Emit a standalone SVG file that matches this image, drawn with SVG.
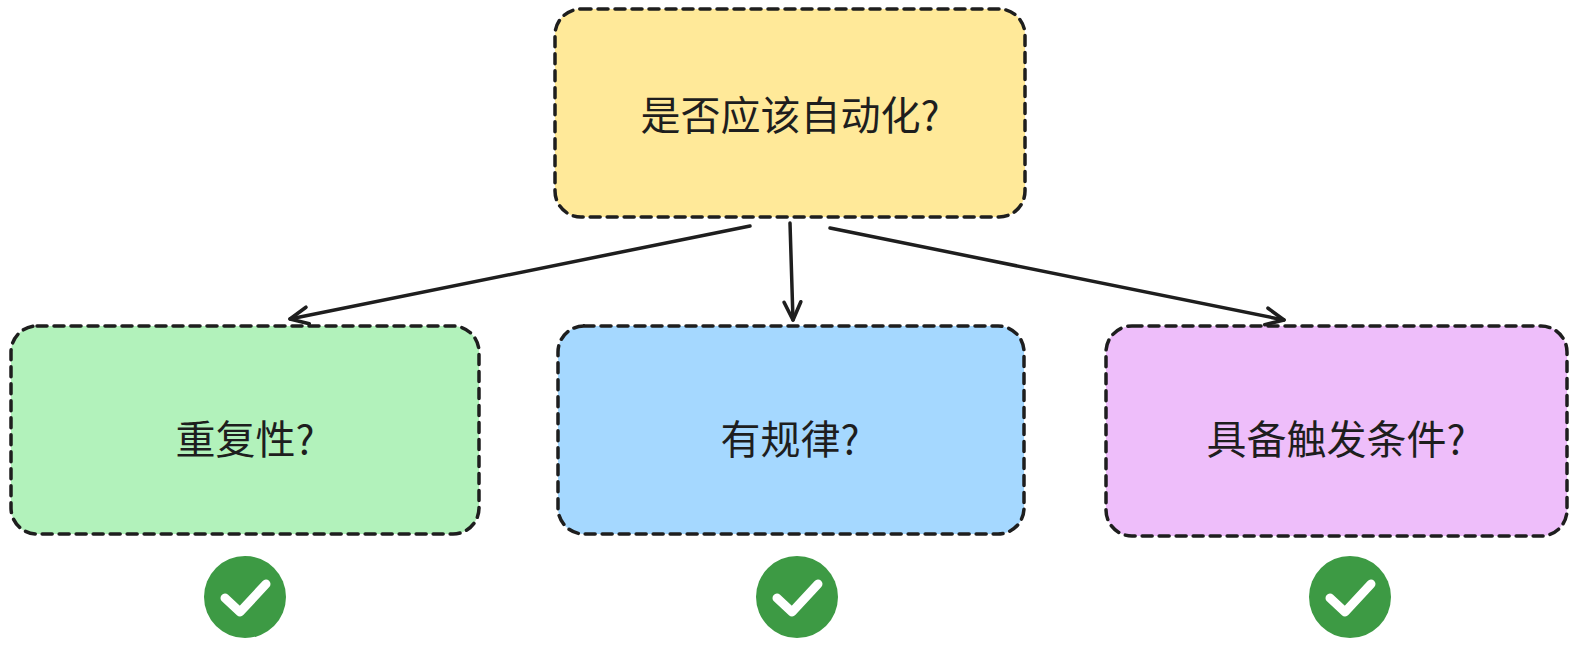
<svg xmlns="http://www.w3.org/2000/svg" width="1586" height="656" viewBox="0 0 1586 656">
<style>
.box{stroke:#1e1e1e;stroke-width:3.5;stroke-dasharray:10 7;stroke-linecap:round}
.t{font-family:"Noto Sans CJK SC","Noto Sans",sans-serif;font-size:40px;fill:#1e1e1e;text-anchor:middle;dominant-baseline:central}
.c{fill:none;stroke:#1e1e1e;stroke-width:3.5;stroke-linecap:round;stroke-linejoin:round}
.ok{fill:#3d9a44}
.ck{fill:none;stroke:#fff;stroke-width:9;stroke-linecap:round;stroke-linejoin:round}
</style>
<defs><marker id="a" viewBox="0 0 20 20" refX="18" refY="10" markerWidth="24" markerHeight="24" orient="auto" markerUnits="userSpaceOnUse"><path d="M3,3 L18,10 L3,17" fill="none" stroke="#1e1e1e" stroke-width="3" stroke-linecap="round" stroke-linejoin="round"/></marker></defs>
<rect width="1586" height="656" fill="#fff"/>
<g id="top"><rect class="box" x="555" y="9" width="470" height="208" rx="26" fill="#ffe999"/><text class="t" x="790" y="113">是否应该自动化?</text></g>
<g id="left"><rect class="box" x="11" y="326" width="468" height="208" rx="26" fill="#b2f2bb"/><text class="t" x="245" y="437">重复性?</text></g>
<g id="mid"><rect class="box" x="558" y="326" width="466" height="208" rx="26" fill="#a5d8ff"/><text class="t" x="790" y="437">有规律?</text></g>
<g id="right"><rect class="box" x="1106" y="326" width="461" height="210" rx="26" fill="#eebefa"/><text class="t" x="1336" y="437">具备触发条件?</text></g>
<g id="connectors">
<path class="c" d="M750,226 L290,319" marker-end="url(#a)"/>
<path class="c" d="M790,223 L793,320" marker-end="url(#a)"/>
<path class="c" d="M830,228 L1284,320" marker-end="url(#a)"/>
</g>
<g id="check1"><circle class="ok" cx="245" cy="597" r="41"/><path class="ck" d="M225,598 L240,612 L266,584"/></g>
<g id="check2"><circle class="ok" cx="797" cy="597" r="41"/><path class="ck" d="M777,598 L792,612 L818,584"/></g>
<g id="check3"><circle class="ok" cx="1350" cy="597" r="41"/><path class="ck" d="M1330,598 L1345,612 L1371,584"/></g>
</svg>
